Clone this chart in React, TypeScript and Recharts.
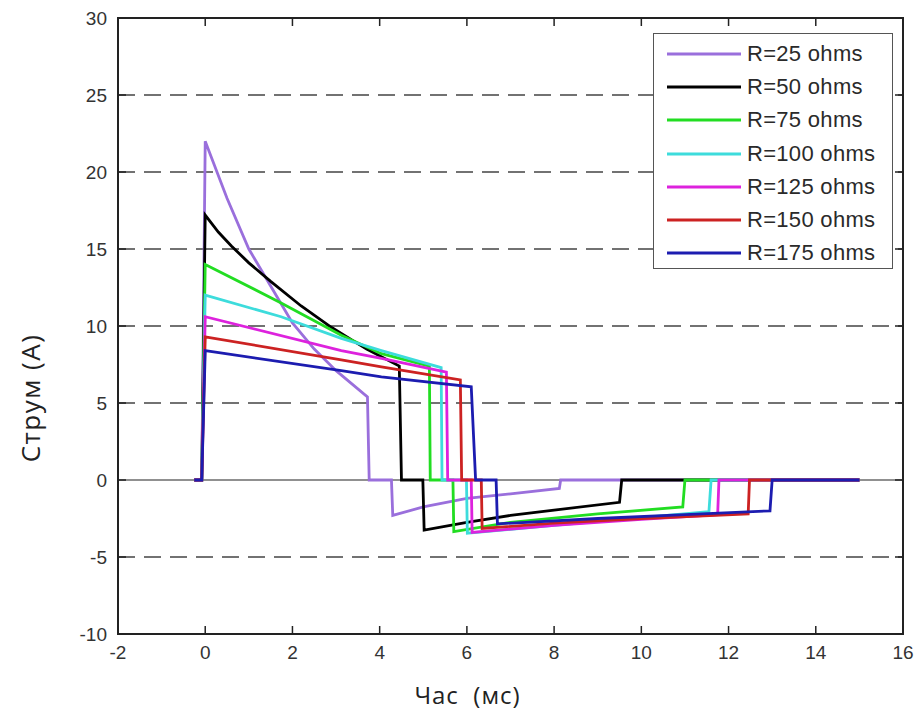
import { LineChart, Line, XAxis, YAxis, ReferenceLine, Legend } from "recharts";

const xTicks = [-2, 0, 2, 4, 6, 8, 10, 12, 14, 16];
const yTicks = [-10, -5, 0, 5, 10, 15, 20, 25, 30];
const gridLevels = [-5, 5, 10, 15, 20, 25];

// time (ms) and current (A) for each load resistance
const t25 = [-0.25, -0.08, 0, 0.5, 1, 1.5, 2, 2.5, 3, 3.72, 3.76, 4.27, 4.3, 5, 6, 7, 8.12, 8.15, 15];
const i25 = [0, 0, 22, 18.3, 15, 12.6, 10.2, 8.5, 7.1, 5.4, 0, 0, -2.3, -1.75, -1.2, -0.9, -0.55, 0, 0];

const t50 = [-0.25, -0.08, 0, 0.3, 0.6, 1.0, 1.5, 2.2, 2.9, 3.7, 4.45, 4.5, 4.99, 5.02, 6, 7, 8, 9.5, 9.55, 15];
const i50 = [0, 0, 17.2, 16.1, 15.2, 14.1, 12.9, 11.3, 9.9, 8.5, 7.4, 0, 0, -3.25, -2.75, -2.3, -1.95, -1.45, 0, 0];

const t75 = [-0.25, -0.08, 0, 1.74, 3.12, 4.04, 5.14, 5.16, 5.68, 5.7, 7, 9, 10.95, 11.0, 15];
const i75 = [0, 0, 14, 11.5, 9.4, 8.2, 7.4, 0, 0, -3.35, -2.75, -2.2, -1.75, 0, 0];

const t100 = [-0.25, -0.08, 0, 1.74, 3.12, 4.04, 5.41, 5.43, 5.99, 6.01, 8, 10, 11.55, 11.6, 15];
const i100 = [0, 0, 12, 10.6, 9.2, 8.4, 7.3, 0, 0, -3.45, -2.95, -2.45, -2.05, 0, 0];

const t125 = [-0.25, -0.08, 0, 3.12, 4.04, 5.53, 5.56, 6.1, 6.12, 8, 10, 11.75, 11.78, 15];
const i125 = [0, 0, 10.6, 8.4, 7.9, 7.0, 0, 0, -3.4, -2.95, -2.55, -2.25, 0, 0];

const t150 = [-0.25, -0.08, 0, 3.12, 4.04, 5.85, 5.88, 6.33, 6.35, 8, 10, 12.45, 12.48, 15];
const i150 = [0, 0, 9.3, 7.8, 7.35, 6.5, 0, 0, -3.15, -2.8, -2.5, -2.2, 0, 0];

const t175 = [-0.25, -0.08, 0, 3.12, 4.04, 6.1, 6.2, 6.67, 6.7, 9, 11, 12.95, 13.0, 15];
const i175 = [0, 0, 8.4, 7.1, 6.7, 6.05, 0, 0, -2.85, -2.5, -2.25, -2.0, 0, 0];

const seriesNames = [
  "R=25 ohms",
  "R=50 ohms",
  "R=75 ohms",
  "R=100 ohms",
  "R=125 ohms",
  "R=150 ohms",
  "R=175 ohms",
];
const seriesT = [t25, t50, t75, t100, t125, t150, t175];
const seriesI = [i25, i50, i75, i100, i125, i150, i175];

const lineColors = ["#9a6fdc", "#000000", "#22dd22", "#3ddcdc", "#dd22dd", "#cc2222", "#1c1cb0"];

const series = seriesNames.map((name, k) => ({
  name,
  color: lineColors[k],
  data: seriesT[k].map((t, j) => ({ t, i: seriesI[k][j] })),
}));

const X_MIN = -2;
const X_MAX = 16;
const Y_MIN = -10;
const Y_MAX = 30;

const W = 919;
const H = 713;
const MARGIN = { top: 18, right: 16, bottom: 0, left: 0 };
const Y_AXIS_W = 118;
const X_AXIS_H = 79;

// plot box, same geometry the chart uses
const PL = MARGIN.left + Y_AXIS_W;
const PR = W - MARGIN.right;
const PT = MARGIN.top;
const PB = H - MARGIN.bottom - X_AXIS_H;
const sx = (v: number) => PL + ((v - X_MIN) / (X_MAX - X_MIN)) * (PR - PL);
const sy = (v: number) => PB - ((v - Y_MIN) / (Y_MAX - Y_MIN)) * (PB - PT);

const FONT = "'Liberation Sans', Arial, sans-serif";
const AX = "#222";
const TICK = 8;

const renderLegend = (props: any) => {
  const items = [...(props.payload || [])].sort(
    (a: any, b: any) => seriesNames.indexOf(a.value) - seriesNames.indexOf(b.value)
  );
  return (
    <div
      style={{
        width: 240,
        height: 236,
        boxSizing: "border-box",
        border: "1.5px solid #555",
        background: "#fff",
        paddingTop: 3,
      }}
    >
      {items.map((entry: any) => (
        <div key={entry.value} style={{ display: "flex", alignItems: "center", height: 33.3 }}>
          <svg width={88} height={6} style={{ flex: "none" }}>
            <line x1={13} x2={87} y1={3} y2={3} stroke={entry.color} strokeWidth={2.8} />
          </svg>
          <span
            style={{
              fontFamily: FONT,
              fontSize: 22,
              letterSpacing: 0.3,
              color: "#2a2a2a",
              marginLeft: 5,
              whiteSpace: "nowrap",
            }}
          >
            {entry.value}
          </span>
        </div>
      ))}
    </div>
  );
};

const YLabel = (p: any) => {
  const vb = p.viewBox;
  const cx = vb.x + 30;
  const cy = vb.y + vb.height / 2 + 72;
  return (
    <text
      x={cx}
      y={cy}
      transform={`rotate(-90 ${cx} ${cy})`}
      textAnchor="middle"
      dominantBaseline="central"
      fontSize={26}
      letterSpacing={1.5}
      fill="#222"
      fontFamily="'Open Sans', sans-serif"
    >
      Струм (A)
    </text>
  );
};

const XLabel = (p: any) => {
  const vb = p.viewBox;
  const cx = vb.x + vb.width / 2 - 43;
  const cy = vb.y + 60;
  return (
    <text
      x={cx}
      y={cy}
      textAnchor="middle"
      dominantBaseline="central"
      fontSize={24}
      letterSpacing={1}
      fill="#222"
      fontFamily="'Open Sans', sans-serif"
      style={{ whiteSpace: "pre" }}
    >
      {"Час  (мс)"}
    </text>
  );
};

const tickStyle = { fontSize: 19, fill: "#333", fontFamily: FONT };

// box frame with inward ticks on all four sides
const AxesBox = () => (
  <svg
    width={W}
    height={H}
    style={{ position: "absolute", left: 0, top: 0, zIndex: 5, pointerEvents: "none" }}
  >
    <rect x={PL} y={PT} width={PR - PL} height={PB - PT} fill="none" stroke={AX} strokeWidth={2} />
    {xTicks.map((v) => (
      <g key={`x${v}`}>
        <line x1={sx(v)} x2={sx(v)} y1={PB} y2={PB - TICK} stroke={AX} strokeWidth={1.5} />
        <line x1={sx(v)} x2={sx(v)} y1={PT} y2={PT + TICK} stroke={AX} strokeWidth={1.5} />
      </g>
    ))}
    {yTicks.map((v) => (
      <g key={`y${v}`}>
        <line x1={PL} x2={PL + TICK} y1={sy(v)} y2={sy(v)} stroke={AX} strokeWidth={1.5} />
        <line x1={PR} x2={PR - TICK} y1={sy(v)} y2={sy(v)} stroke={AX} strokeWidth={1.5} />
      </g>
    ))}
  </svg>
);

export default function App() {
  return (
    <div style={{ position: "absolute", left: 0, top: 0, width: W, height: H, background: "#fff" }}>
      <LineChart width={W} height={H} margin={MARGIN}>
        <XAxis
          dataKey="t"
          type="number"
          domain={[X_MIN, X_MAX]}
          ticks={xTicks}
          interval={0}
          allowDataOverflow
          height={X_AXIS_H}
          tickSize={0}
          tickMargin={12}
          tickLine={false}
          tick={tickStyle}
          axisLine={{ stroke: AX, strokeWidth: 2 }}
          label={XLabel}
        />
        <YAxis
          type="number"
          domain={[Y_MIN, Y_MAX]}
          ticks={yTicks}
          interval={0}
          allowDataOverflow
          width={Y_AXIS_W}
          tickSize={0}
          tickMargin={11}
          tickLine={false}
          tick={tickStyle}
          axisLine={{ stroke: AX, strokeWidth: 2 }}
          label={YLabel}
        />
        {gridLevels.map((v) => (
          <ReferenceLine key={`g${v}`} y={v} stroke="#444" strokeWidth={1.5} strokeDasharray="17 9" />
        ))}
        <ReferenceLine y={0} stroke="#222" strokeWidth={1.2} />
        {series.map((s) => (
          <Line
            key={s.name}
            name={s.name}
            data={s.data}
            dataKey="i"
            type="linear"
            stroke={s.color}
            strokeWidth={2.8}
            dot={false}
            activeDot={false}
            isAnimationActive={false}
          />
        ))}
        <Legend
          layout="vertical"
          align="center"
          verticalAlign="middle"
          wrapperStyle={{ left: 653, top: 33, width: 240, height: 236 }}
          content={renderLegend}
        />
      </LineChart>
      <AxesBox />
    </div>
  );
}
